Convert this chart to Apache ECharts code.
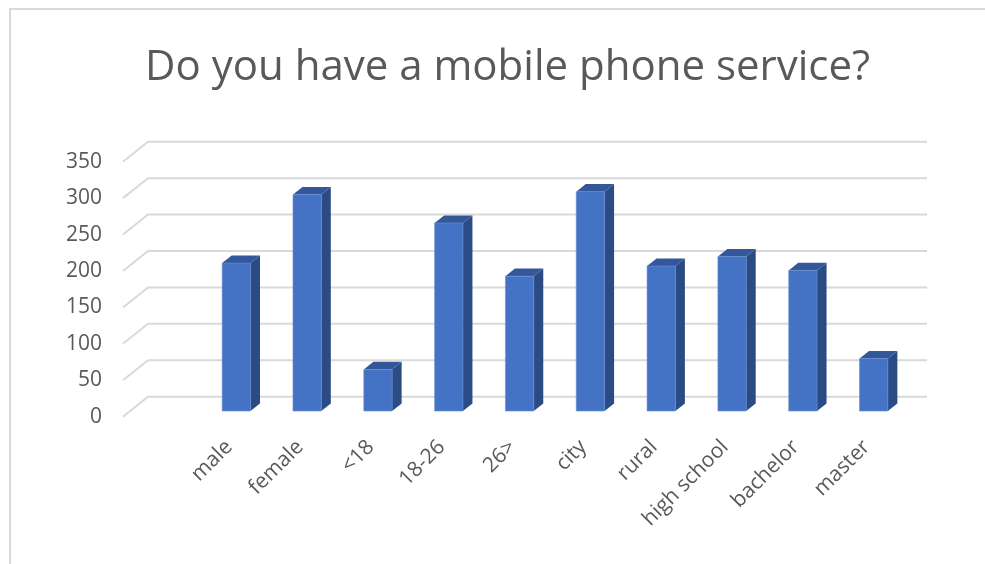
<!DOCTYPE html>
<html>
<head>
<meta charset="utf-8">
<script src="https://cdn.jsdelivr.net/npm/echarts@6/dist/echarts.min.js"></script>
<style>
  html, body { margin: 0; padding: 0; background: #fff; }
  #chart { width: 985px; height: 564px; }
</style>
</head>
<body>
<div id="chart"></div>
<script>
// Survey answers: respondents with a mobile phone service, by group
const categories = ['', 'male', 'female', '<18', '18-26', '26>', 'city', 'rural', 'high school', 'bachelor', 'master'];
const groups = ['male', 'female', '<18', '18-26', '26>', 'city', 'rural', 'high school', 'bachelor', 'master'];
const counts = [203, 297, 57, 258, 185, 301, 199, 212, 193, 72];
const yTicks = [0, 50, 100, 150, 200, 250, 300, 350];

const chart = echarts.init(document.getElementById('chart'));

// Oblique projection of the floor: the back wall sits up and to the right
const WALL_DX = 25, WALL_DY = -20;
// Bars stand part way into the floor depth
const BAR_OFF_DX = 7.1, BAR_OFF_DY = -5.7;
const BAR_DEPTH_DX = 9.5, BAR_DEPTH_DY = -7.6;

function renderGridLine(params, api) {
  const cs = params.coordSys;
  const y = api.coord([0, api.value(1)])[1];
  return {
    type: 'polyline',
    shape: {
      points: [
        [cs.x, y],
        [cs.x + WALL_DX, y + WALL_DY],
        [cs.x + cs.width + WALL_DX, y + WALL_DY]
      ]
    },
    style: { stroke: '#d9d9d9', lineWidth: 2, fill: null },
    silent: true
  };
}

function renderBar(params, api) {
  const idx = api.value(0);
  const top = api.coord([idx, api.value(1)]);
  const base = api.coord([idx, 0]);
  const band = api.size([1, 0])[0];
  const hw = band * 0.2;
  const cx = top[0] + BAR_OFF_DX;
  const yt = top[1] + BAR_OFF_DY;
  const yb = base[1] + BAR_OFF_DY;
  const x0 = cx - hw, x1 = cx + hw;
  const dx = BAR_DEPTH_DX, dy = BAR_DEPTH_DY;
  return {
    type: 'group',
    children: [
      {
        type: 'polygon',
        shape: { points: [[x1, yt], [x1 + dx, yt + dy], [x1 + dx, yb + dy], [x1, yb]] },
        style: { fill: '#2b4b84' }
      },
      {
        type: 'polygon',
        shape: { points: [[x0, yt], [x1, yt], [x1 + dx, yt + dy], [x0 + dx, yt + dy]] },
        style: { fill: '#33579a' }
      },
      {
        type: 'rect',
        shape: { x: x0, y: yt, width: x1 - x0, height: yb - yt },
        style: { fill: '#4472c4', stroke: '#6a8fd2', lineWidth: 0.6 }
      }
    ]
  };
}

chart.setOption({
  animation: false,
  backgroundColor: '#ffffff',
  title: {
    text: 'Do you have a mobile phone service?',
    left: 140,
    top: 42,
    textStyle: {
      fontFamily: 'Open Sans',
      fontWeight: 'normal',
      fontSize: 42,
      color: '#595959'
    }
  },
  graphic: [
    {
      type: 'polyline',
      shape: { points: [[10, 564], [10, 9], [985, 9]] },
      style: { stroke: '#d9d9d9', lineWidth: 2, fill: null },
      silent: true
    }
  ],
  grid: { left: 123, right: 83, top: 161.7, bottom: 147.3 },
  xAxis: {
    type: 'category',
    data: categories,
    axisLine: { show: false },
    axisTick: { show: false },
    axisLabel: {
      interval: 0,
      rotate: 45,
      margin: 27,
      fontFamily: 'Open Sans',
      fontSize: 21,
      color: '#595959'
    }
  },
  yAxis: {
    type: 'value',
    min: 0,
    max: 350,
    interval: 50,
    axisLine: { show: false },
    axisTick: { show: false },
    splitLine: { show: false },
    axisLabel: {
      margin: 21,
      fontFamily: 'Open Sans',
      fontSize: 21,
      color: '#595959'
    }
  },
  series: [
    {
      type: 'custom',
      name: 'grid',
      z: 1,
      silent: true,
      clip: false,
      renderItem: renderGridLine,
      data: yTicks.map(v => [0, v])
    },
    {
      type: 'custom',
      name: 'Yes',
      z: 2,
      clip: false,
      renderItem: renderBar,
      data: groups.map((g, i) => [g, counts[i]])
    }
  ]
});
</script>
</body>
</html>
